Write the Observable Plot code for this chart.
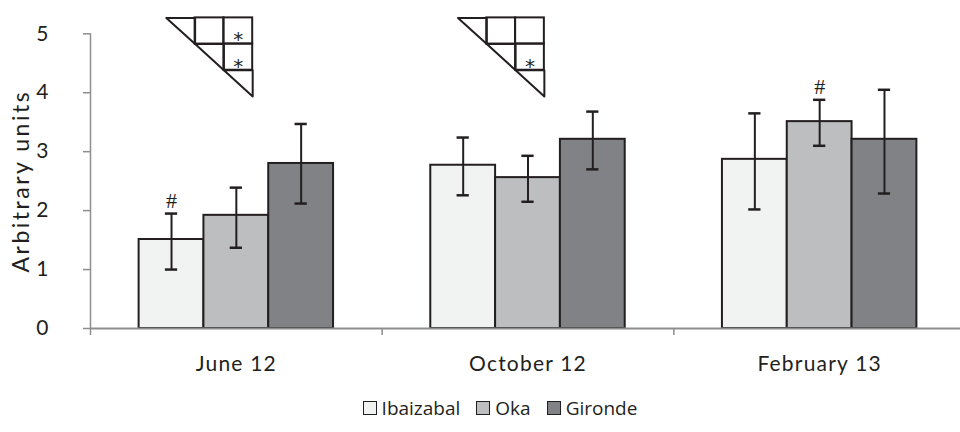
<!DOCTYPE html>
<html>
<head>
<meta charset="utf-8">
<script src="https://cdn.jsdelivr.net/npm/d3@7"></script>
<script src="https://cdn.jsdelivr.net/npm/@observablehq/plot@0.6"></script>
<style>
  html, body { margin: 0; padding: 0; background: #fff; }
  #chart { width: 960px; height: 432px; overflow: hidden; position: relative; }
  #chart svg { display: block; }
  .legend { box-sizing: border-box; height: 47px; padding-top: 11px; padding-left: 40px;
            display: flex; justify-content: center; align-items: flex-start;
            font-family: "Open Sans", sans-serif; font-size: 19px; line-height: 24px; color: #231f20; }
  .item { display: flex; align-items: center; margin: 0 8px; }
  .sw { box-sizing: border-box; width: 14px; height: 14px; border: 1.5px solid #231f20; margin-right: 5px; }
</style>
</head>
<body>
<div id="chart"></div>
<script>
// ---- data ----
const dates = ["June 12", "October 12", "February 13"];
const sites = ["Ibaizabal", "Oka", "Gironde"];
const ibaizabalMean = [1.51, 2.77, 2.87];
const okaMean       = [1.92, 2.56, 3.51];
const girondeMean   = [2.80, 3.21, 3.21];
const ibaizabalLow  = [1.00, 2.26, 2.02];
const ibaizabalHigh = [1.95, 3.24, 3.65];
const okaLow        = [1.37, 2.15, 3.10];
const okaHigh       = [2.39, 2.93, 3.88];
const girondeLow    = [2.12, 2.70, 2.29];
const girondeHigh   = [3.47, 3.68, 4.05];
const yTicks = [0, 1, 2, 3, 4, 5];
const hashDates = ["June 12", "February 13"];
const hashSites = ["Ibaizabal", "Oka"];
const triangleDates = ["June 12", "October 12"];
const starDates = ["June 12", "June 12", "October 12"];
const starRowSites = ["Ibaizabal", "Oka", "Oka"];
const starColSites = ["Gironde", "Gironde", "Gironde"];

// ---- styles ----
const ink = "#231f20";
const axisGray = "#8e8e8e";
const siteFills = ["#f1f2f2", "#bcbec0", "#808285"];

// ---- build tables ----
const means = [ibaizabalMean, okaMean, girondeMean];
const lows = [ibaizabalLow, okaLow, girondeLow];
const highs = [ibaizabalHigh, okaHigh, girondeHigh];
const rows = dates.flatMap((date, gi) => sites.map((site, si) => ({
  date, site, gi, si, value: means[si][gi], lo: lows[si][gi], hi: highs[si][gi]
})));
const GAP = 1.5, SLOTS = 3 + GAP;
const bx1 = d => d.gi + (GAP / 2 + d.si) / SLOTS;
const bx2 = d => d.gi + (GAP / 2 + d.si + 1) / SLOTS;
const bxc = d => d.gi + (GAP / 2 + d.si + 0.5) / SLOTS;
const CAP = 0.021;

const hashes = hashDates.map((date, k) => rows.find(r => r.date === date && r.site === hashSites[k]));

// significance triangle layout (group units / y units)
const T = { x0: 0.26, cw: 0.0987, top: 5.27, rh: 0.444 };
const gIdx = date => dates.indexOf(date);
const fullCells = triangleDates.flatMap(date => [[0, 1], [0, 2], [1, 2]].map(([r, c]) => ({ date, r, c })));
const diagPts = triangleDates.flatMap(date => [0, 1, 2].flatMap(i =>
  [[i, i], [i + 1, i], [i + 1, i + 1], [i, i]].map(([cx, ry]) => ({
    key: date + i, x: gIdx(date) + T.x0 + cx * T.cw, y: T.top - ry * T.rh
  }))));
const stars = starDates.map((date, k) => ({
  date, r: sites.indexOf(starRowSites[k]), c: sites.indexOf(starColSites[k])
}));

const chart = Plot.plot({
  width: 960, height: 385,
  marginLeft: 90, marginRight: -5, marginTop: 33.3, marginBottom: 57,
  x: { domain: [0, 3], axis: null },
  y: { domain: [0, 5], axis: null },
  color: { domain: sites, range: siteFills },
  style: { fontFamily: "Lato, sans-serif", color: ink, background: "white" },
  marks: [
    Plot.rectY(rows, { x1: bx1, x2: bx2, y: "value", fill: "site", stroke: ink, strokeWidth: 2 }),
    Plot.ruleX(rows, { x: bxc, y1: "lo", y2: "hi", stroke: ink, strokeWidth: 2 }),
    Plot.ruleY(rows, { y: "hi", x1: d => bxc(d) - CAP, x2: d => bxc(d) + CAP, stroke: ink, strokeWidth: 2.5 }),
    Plot.ruleY(rows, { y: "lo", x1: d => bxc(d) - CAP, x2: d => bxc(d) + CAP, stroke: ink, strokeWidth: 2.5 }),
    Plot.text(hashes, { x: bxc, y: "hi", text: () => "#", dy: -13, fontSize: 22,
      fontFamily: "Liberation Serif, serif", fill: ink }),
    // axes
    Plot.ruleY([0], { x1: 0, x2: 3, stroke: axisGray, strokeWidth: 2 }),
    Plot.ruleX([0], { y1: 0, y2: 5, stroke: axisGray, strokeWidth: 1.5 }),
    Plot.axisY(yTicks, { anchor: "left", tickSize: 7, tickPadding: 35, fontSize: 21,
      tickFormat: d3.format("d"), stroke: axisGray, strokeWidth: 1.5, fill: ink, label: null }),
    Plot.axisX([0, 1, 2, 3], { anchor: "bottom", tickSize: 7, tickFormat: () => "",
      stroke: axisGray, strokeWidth: 1.5, label: null }),
    Plot.axisX([0.5, 1.5, 2.5], { anchor: "bottom", tickSize: 0, tickPadding: 28,
      tickFormat: d => dates[Math.floor(d)], fontSize: 21, fill: ink, label: null }),
    Plot.text(["Arbitrary units"], { frameAnchor: "left", textAnchor: "middle", dx: -69, rotate: -90,
      fontSize: 23, fill: ink }),
    // significance triangles
    Plot.rect(fullCells, {
      x1: d => gIdx(d.date) + T.x0 + d.c * T.cw, x2: d => gIdx(d.date) + T.x0 + (d.c + 1) * T.cw,
      y1: d => T.top - (d.r + 1) * T.rh, y2: d => T.top - d.r * T.rh,
      fill: "none", stroke: ink, strokeWidth: 2
    }),
    Plot.line(diagPts, { x: "x", y: "y", z: "key", stroke: ink, strokeWidth: 2, curve: "linear" }),
    Plot.text(stars, {
      x: d => gIdx(d.date) + T.x0 + (d.c + 0.5) * T.cw, y: d => T.top - (d.r + 0.5) * T.rh,
      text: () => "*", fontSize: 20, dy: 9, fontFamily: "DejaVu Sans, sans-serif", fill: ink
    })
  ]
});

// wider PDF-like tracking on the category labels and axis title
d3.select(chart).selectAll("[aria-label='x-axis tick label'] text").attr("letter-spacing", "1.2px");
d3.select(chart).selectAll("[aria-label='text'] text")
  .filter(function () { return this.textContent === "Arbitrary units"; })
  .attr("letter-spacing", "2.5px");

const root = document.getElementById("chart");
root.appendChild(chart);
const legend = document.createElement("div");
legend.className = "legend";
sites.forEach((s, i) => {
  const it = document.createElement("div");
  it.className = "item";
  const sw = document.createElement("span");
  sw.className = "sw";
  sw.style.background = siteFills[i];
  const tx = document.createElement("span");
  tx.textContent = s;
  it.appendChild(sw); it.appendChild(tx);
  legend.appendChild(it);
});
root.appendChild(legend);
</script>
</body>
</html>
